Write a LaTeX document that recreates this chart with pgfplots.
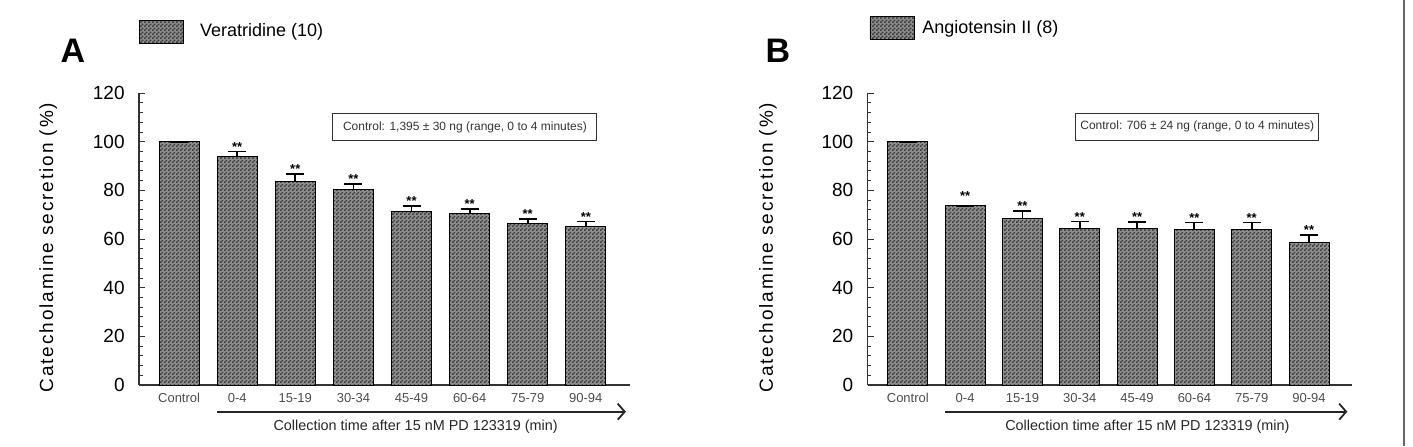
\documentclass[border=0pt]{standalone}
\usepackage{fontspec}
\setmainfont{Liberation Sans}
\newfontfamily\spacedfont[LetterSpace=10]{Liberation Sans}
\usepackage{pgfplots}
\pgfplotsset{compat=1.18}
\usepackage{pgfplotstable}
\usetikzlibrary{patterns,arrows.meta}

\pgfdeclarepatternformonly{finedots}{\pgfpointorigin}{\pgfqpoint{2pt}{2pt}}{\pgfqpoint{2pt}{2pt}}{%
 \pgfpathrectangle{\pgfpointorigin}{\pgfqpoint{1pt}{1pt}}%
 \pgfpathrectangle{\pgfqpoint{1pt}{1pt}}{\pgfqpoint{1pt}{1pt}}%
 \pgfusepath{fill}}

\definecolor{barfill}{gray}{0.56}

\pgfplotstableread{
x y e
0 100 0
1 93.9 2.1
2 83.7 3.1
3 80.5 2.2
4 71.3 2.1
5 70.4 2.0
6 66.2 2.0
7 65.1 2.1
}\dataA

\pgfplotstableread{
x y e
0 100 0
1 73.6 0
2 68.6 3.0
3 64.2 3.0
4 64.2 2.7
5 63.8 3.0
6 63.8 3.0
7 58.6 3.0
}\dataB

\pgfplotsset{
 panel/.style={
  scale only axis, height=146pt, ymin=0, ymax=120,
  axis x line*=bottom, axis y line*=left,
  axis line style={line width=0.7pt, black!80},
  ytick={0,20,...,120}, minor y tick num=4,
  tick align=inside, major tick length=3pt, minor tick length=1.8pt,
  ytick style={line width=0.5pt, black!80},
  minor y tick style={line width=0.4pt, black!80},
  yticklabel style={font=\fontsize{9.5}{10}\selectfont, inner sep=0pt, xshift=-7pt},
  /pgf/number format/assume math mode=true,
  xtick={0,...,7}, xticklabels={Control,0-4,15-19,30-34,45-49,60-64,75-79,90-94},
  xtick style={draw=none},
  xticklabel style={font=\fontsize{6.5}{7}\selectfont, text=black!70, inner sep=0pt, yshift=-4pt},
  clip=false,
  ylabel={\spacedfont Catecholamine\ secretion\ (\%)},
  ylabel style={font=\fontsize{9.5}{10}\selectfont, anchor=center},
  legend style={draw=none, fill=none, inner sep=0pt, font=\fontsize{9}{10}\selectfont, legend cell align=left},
 },
 bars/.style={ybar, bar width=20pt, draw=black, line width=0.5pt, fill=barfill,
   postaction={pattern=finedots, pattern color=black!78},
   error bars/.cd, y dir=plus, y explicit,
   error bar style={line width=0.9pt, black},
   error mark options={rotate=90, mark size=4.5pt, line width=0.9pt, black}},
 stars/.style={draw=none, mark=none, nodes near coords={**},
   every node near coord/.append style={font=\fontsize{6.5}{7}\selectfont\bfseries, anchor=south, inner sep=0pt}},
 swatch/.style={legend image code/.code={\draw[draw=black, line width=0.4pt, fill=barfill, postaction={pattern=finedots, pattern color=black!78}] (0pt,-5.75pt) rectangle (22pt,5.75pt);}},
}

\begin{document}
\begin{tikzpicture}
\useasboundingbox (0,0) rectangle (706.5pt,223pt);

\begin{axis}[panel, at={(69.5pt,30.5pt)}, anchor=south west, width=245.5pt,
  xmin=-0.69, xmax=7.76,
  ylabel style={at={(axis description cs:-0.185,0.471)}},
  legend style={at={(axis description cs:0,1.21)}, anchor=west}]
\addlegendimage{swatch}
\addlegendentry{\hspace{6pt}Veratridine (10)}
\addplot[bars] table[x=x, y=y, y error=e] {\dataA};
\addplot[stars] coordinates {(1,96.0) (2,86.8) (3,82.7) (4,73.4) (5,72.4) (6,68.2) (7,67.2)};
\node[draw=black!80, line width=0.5pt, minimum width=132pt, minimum height=13.5pt, inner sep=0pt,
  font=\fontsize{6}{7}\selectfont, text=black!80] at (axis cs:4.92,106) {Control: 1,395 ± 30 ng (range, 0 to 4 minutes)};
\draw[line width=0.9pt, black!85, -{Straight Barb[length=3.5pt,width=8pt]}] (axis cs:0.655,-10.97) -- (axis cs:7.69,-10.97);
\node[font=\fontsize{7.2}{8}\selectfont, text=black!85] at (axis cs:4.07,-17.3) {Collection time after 15 nM PD 123319 (min)};
\end{axis}

\begin{axis}[panel, at={(433.85pt,30.5pt)}, anchor=south west, width=242.15pt,
  xmin=-0.70, xmax=7.75,
  ylabel style={at={(axis description cs:-0.206,0.471)}},
  legend style={at={(axis description cs:0.003,1.2226)}, anchor=west}]
\addlegendimage{swatch}
\addlegendentry{\hspace{2pt}Angiotensin II (8)}
\addplot[bars] table[x=x, y=y, y error=e] {\dataB};
\addplot[stars] coordinates {(1,75.5) (2,71.6) (3,67.2) (4,66.9) (5,66.8) (6,66.8) (7,61.6)};
\node[draw=black!80, line width=0.5pt, minimum width=121.5pt, minimum height=13.5pt, inner sep=0pt,
  font=\fontsize{6}{7}\selectfont, text=black!80] at (axis cs:5.05,106.2) {Control: 706 ± 24 ng (range, 0 to 4 minutes)};
\draw[line width=0.9pt, black!85, -{Straight Barb[length=3.5pt,width=8pt]}] (axis cs:0.656,-10.97) -- (axis cs:7.67,-10.97);
\node[font=\fontsize{7.2}{8}\selectfont, text=black!85] at (axis cs:4.18,-17.3) {Collection time after 15 nM PD 123319 (min)};
\end{axis}

\node[font=\fontsize{17}{17}\selectfont\bfseries] at (36.5pt,197.75pt) {A};
\node[font=\fontsize{17}{17}\selectfont\bfseries] at (389pt,197.5pt) {B};
\draw[black!60, line width=1pt] (702pt,0) -- (702pt,223pt);
\end{tikzpicture}
\end{document}
